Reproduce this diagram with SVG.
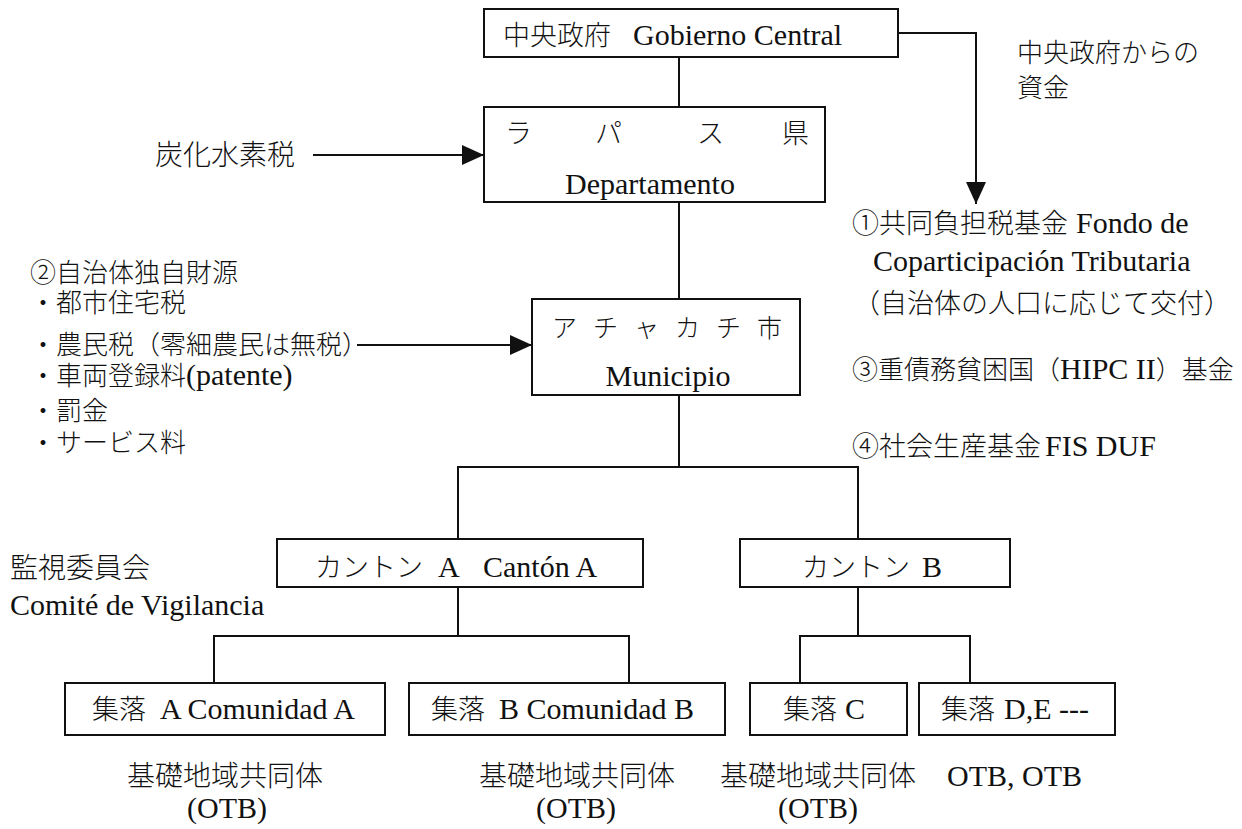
<svg xmlns="http://www.w3.org/2000/svg" width="1242" height="829" viewBox="0 0 1242 829">
<style>
.t{font-family:"Liberation Serif","Noto Sans CJK JP",serif;fill:#111;font-weight:normal;}
.j{font-family:"Noto Sans CJK JP","Liberation Serif",sans-serif;fill:#111;font-weight:300;}
.s{font-family:"Liberation Serif","Noto Sans CJK JP",serif;fill:#111;font-weight:300;font-size:26px;}
.L{font-family:"Liberation Serif",serif;font-size:30px;font-weight:normal;}
.box{fill:#fff;stroke:#111;stroke-width:2;}
.con{fill:none;stroke:#111;stroke-width:2;}
</style>
<defs>
<marker id="ah" viewBox="0 0 22 20" refX="22" refY="10" markerWidth="22" markerHeight="20" markerUnits="userSpaceOnUse" orient="auto">
<path d="M0,0 L22,10 L0,20 Z" fill="#111"/>
</marker>
</defs>
<rect width="1242" height="829" fill="#fff"/>

<g id="connectors">
<path class="con" d="M679 57 V107"/>
<path class="con" d="M679 202 V299"/>
<path class="con" d="M679 395 V467"/>
<path class="con" d="M458 539 V467 H858 V539"/>
<path class="con" d="M458 587 V636"/>
<path class="con" d="M214 683 V636 H629 V683"/>
<path class="con" d="M858 587 V636"/>
<path class="con" d="M800 683 V636 H970 V683"/>
<path class="con" d="M898 33 H976 V204" marker-end="url(#ah)"/>
<path class="con" d="M313 155 H484" marker-end="url(#ah)"/>
<path class="con" d="M357 345 H532" marker-end="url(#ah)"/>
</g>

<g id="central">
<rect class="box" x="484" y="9" width="414" height="48"/>
<text class="t" y="45"><tspan class="j" x="503" font-size="27">中央政府</tspan><tspan class="L" x="633">Gobierno Central</tspan></text>
</g>

<g id="departamento">
<rect class="box" x="484" y="107" width="341" height="95"/>
<text class="j" y="143" font-size="27"><tspan x="505">ラ</tspan><tspan x="595">パ</tspan><tspan x="697">ス</tspan><tspan x="782">県</tspan></text>
<text class="t L" x="650" y="194" text-anchor="middle" font-size="29">Departamento</text>
</g>

<g id="municipio">
<rect class="box" x="532" y="299" width="268" height="96"/>
<text class="j" y="337" font-size="25"><tspan x="552">ア</tspan><tspan x="593">チ</tspan><tspan x="634">ャ</tspan><tspan x="675">カ</tspan><tspan x="716">チ</tspan><tspan x="757">市</tspan></text>
<text class="t L" x="668" y="386" text-anchor="middle">Municipio</text>
</g>

<g id="canton-a">
<rect class="box" x="277" y="539" width="366" height="48"/>
<text class="t" y="577"><tspan class="j" x="315" font-size="27">カントン</tspan><tspan class="L" x="438">A</tspan><tspan class="L" x="483">Cantón A</tspan></text>
</g>

<g id="canton-b">
<rect class="box" x="740" y="539" width="270" height="48"/>
<text class="t" y="577"><tspan class="j" x="802" font-size="27">カントン</tspan><tspan class="L" x="922">B</tspan></text>
</g>

<g id="comunidad-a">
<rect class="box" x="65" y="683" width="320" height="52"/>
<text class="t" y="719"><tspan class="j" x="92" font-size="27">集落</tspan><tspan class="L" x="160">A Comunidad A</tspan></text>
</g>

<g id="comunidad-b">
<rect class="box" x="409" y="683" width="316" height="52"/>
<text class="t" y="719"><tspan class="j" x="431" font-size="27">集落</tspan><tspan class="L" x="499">B Comunidad B</tspan></text>
</g>

<g id="comunidad-c">
<rect class="box" x="750" y="683" width="157" height="52"/>
<text class="t" y="719"><tspan class="j" x="783" font-size="27">集落</tspan><tspan class="L" x="845">C</tspan></text>
</g>

<g id="comunidad-d">
<rect class="box" x="919" y="683" width="196" height="52"/>
<text class="t" y="719"><tspan class="j" x="941" font-size="27">集落</tspan><tspan class="L" x="1004">D,E ---</tspan></text>
</g>

<g id="hydrocarbon">
<text class="j" x="155" y="165" font-size="28">炭化水素税</text>
</g>

<g id="own-resources">
<text class="s" x="30" y="282">②自治体独自財源</text>
<text class="s" x="30" y="312">・都市住宅税</text>
<text class="s" x="30" y="354">・農民税（零細農民は無税）</text>
<text class="s" x="30" y="385">・車両登録料<tspan class="L" font-size="28">(patente)</tspan></text>
<text class="s" x="30" y="420">・罰金</text>
<text class="s" x="30" y="452">・サービス料</text>
</g>

<g id="central-funds">
<text class="s" x="1017" y="62" font-size="27">中央政府からの</text>
<text class="s" x="1017" y="97" font-size="27">資金</text>
<text class="t" y="233"><tspan class="j" x="852" font-size="27">①共同負担税基金</tspan><tspan class="L" x="1076" font-size="28">Fondo de</tspan></text>
<text class="t L" x="873" y="271">Coparticipación Tributaria</text>
<text class="j" x="853" y="313" font-size="27">（自治体の人口に応じて交付）</text>
<text class="t" y="379"><tspan class="j" x="852" font-size="26">③重債務貧困国（</tspan><tspan class="L" font-size="27">HIPC II</tspan><tspan class="j" font-size="26">）基金</tspan></text>
<text class="t" y="456"><tspan class="j" x="852" font-size="27">④社会生産基金</tspan><tspan class="L" x="1045">FIS DUF</tspan></text>
</g>

<g id="vigilance">
<text class="j" x="10" y="578" font-size="28">監視委員会</text>
<text class="t L" x="10" y="615">Comité de Vigilancia</text>
</g>

<g id="otb-labels">
<text class="j" x="127" y="786" font-size="28">基礎地域共同体</text>
<text class="t L" x="187" y="818">(OTB)</text>
<text class="j" x="479" y="786" font-size="28">基礎地域共同体</text>
<text class="t L" x="536" y="818">(OTB)</text>
<text class="j" x="720" y="786" font-size="28">基礎地域共同体</text>
<text class="t L" x="778" y="818">(OTB)</text>
<text class="t L" x="947" y="786" font-size="31">OTB, OTB</text>
</g>
</svg>
